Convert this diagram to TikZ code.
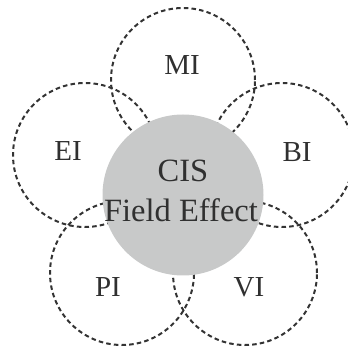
\documentclass[tikz,border=0pt]{standalone}
\usepackage{fontspec}
\setmainfont{Liberation Serif}
\definecolor{dashgray}{HTML}{333333}
\definecolor{fillgray}{HTML}{C8C9C9}
\definecolor{txtgray}{HTML}{303030}
\begin{document}
\begin{tikzpicture}[x=1pt,y=1pt,
  dashcirc/.style={circle,draw=dashgray,line width=2pt,dash pattern=on 4.5pt off 3.2pt,minimum size=144pt,inner sep=0pt},
  corecirc/.style={circle,fill=fillgray,minimum size=161pt,inner sep=0pt},
  lbl/.style={text=txtgray,anchor=base,inner sep=0pt,font=\fontsize{29}{32}\selectfont},
  corelbl/.style={text=txtgray,anchor=base,inner sep=0pt,font=\fontsize{32.5}{36}\selectfont}]
\useasboundingbox (0,0) rectangle (348,351);
\begin{scope}
\clip (0,0) rectangle (348,351);
\node[dashcirc] (mi) at (183,271) {};
\node[dashcirc] (ei) at (85,196) {};
\node[dashcirc] (bi) at (282,196) {};
\node[dashcirc] (pi) at (122,78) {};
\node[dashcirc] (vi) at (245,78) {};
\node[corecirc] (core) at (183,156) {};
\end{scope}
\node[lbl] (mit) at (182,276) {MI};
\node[lbl] (eit) at (68,190) {EI};
\node[lbl] (bit) at (297,189) {BI};
\node[lbl] (pit) at (108,54) {PI};
\node[lbl] (vit) at (249,54) {VI};
\node[corelbl] (cis) at (183,169) {CIS};
\node[corelbl] (fe) at (181,129) {Field Effect};
\end{tikzpicture}
\end{document}
